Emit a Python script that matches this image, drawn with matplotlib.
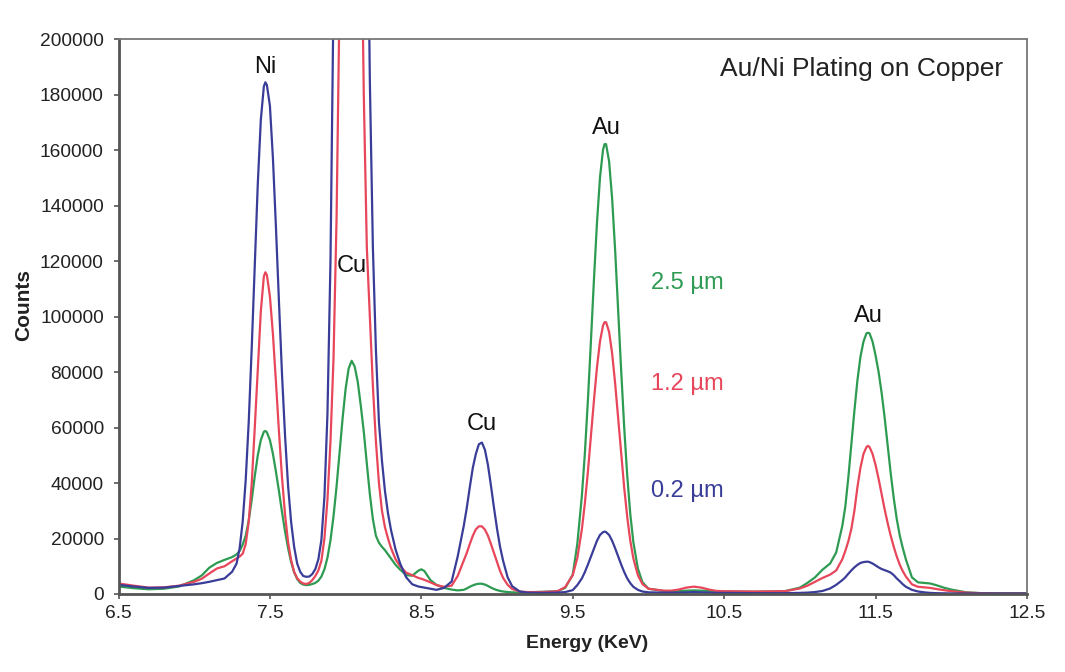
import matplotlib
matplotlib.use('Agg')
import matplotlib.pyplot as plt
from matplotlib.ticker import FuncFormatter

plt.rcParams['font.family'] = ['Liberation Sans', 'DejaVu Sans']

# energy axis (KeV), one row per region of the spectrum
energy = [
    6.5, 6.6, 6.7, 6.8, 6.9, 7.0, 7.05, 7.1, 7.15, 7.2, 7.25,
    7.28, 7.30, 7.32, 7.34, 7.36, 7.38, 7.40, 7.42, 7.44, 7.46,
    7.47, 7.48, 7.50, 7.52, 7.54, 7.56, 7.58, 7.60, 7.62, 7.64, 7.66,
    7.68, 7.70, 7.72, 7.74, 7.76, 7.78, 7.80, 7.82, 7.84, 7.86,
    7.88, 7.90, 7.92, 7.94, 7.96, 7.98, 8.00, 8.02, 8.04,
    8.06, 8.08, 8.10, 8.12, 8.14, 8.16, 8.18, 8.20,
    8.22, 8.24, 8.26, 8.28, 8.30, 8.33, 8.36, 8.40, 8.44,
    8.48, 8.50, 8.52, 8.56, 8.60, 8.65, 8.70,
    8.74, 8.78, 8.80, 8.82, 8.84, 8.86, 8.88, 8.90,
    8.92, 8.94, 8.96, 8.98, 9.00, 9.02, 9.04, 9.07, 9.10,
    9.15, 9.20, 9.30, 9.40, 9.45, 9.50, 9.53,
    9.56, 9.58, 9.60, 9.62, 9.64, 9.66, 9.68, 9.70,
    9.71, 9.72, 9.74, 9.76, 9.78, 9.80, 9.82, 9.84, 9.86,
    9.88, 9.90, 9.93, 9.96, 10.0, 10.1,
    10.15, 10.2, 10.25, 10.3, 10.35, 10.4, 10.45, 10.5, 10.7, 10.9,
    11.0, 11.05, 11.1, 11.15, 11.2, 11.24, 11.28, 11.30,
    11.32, 11.34, 11.36, 11.38, 11.40, 11.42, 11.44, 11.45, 11.46,
    11.48, 11.50, 11.52, 11.54, 11.56, 11.58, 11.60, 11.62, 11.64, 11.66, 11.68, 11.70,
    11.74, 11.78, 11.82, 11.86, 11.90, 11.95, 12.0, 12.1, 12.2, 12.3, 12.4, 12.5,
]

# 0.2 um gold
counts_02 = [
    3300, 2700, 2200, 2300, 2900, 3500, 3900, 4400, 5000, 5600, 8000,
    11000, 16500, 26000, 41000, 62000, 89000, 119000, 148000, 171000, 183000,
    184500, 183500, 176000, 157000, 132000, 105000, 79000, 57000, 39000, 26000, 17000,
    11000, 8000, 6500, 6200, 6300, 7200, 9000, 12500, 19500, 35000,
    65000, 120000, 215000, 340000, 480000, 620000, 730000, 790000, 800000,
    752000, 658000, 532000, 398000, 276000, 185000, 125000, 88000,
    62000, 48000, 37000, 29000, 23000, 16000, 11000, 6000, 3500,
    2700, 2500, 2300, 1900, 1500, 2200, 4500,
    13500, 24500, 31000, 38500, 45500, 50500, 54000, 54600,
    52000, 46500, 39000, 31000, 23500, 17000, 12000, 6000, 2800,
    900, 500, 400, 500, 700, 1400, 3200,
    5600, 7900, 10600, 13500, 16500, 19200, 21300, 22300,
    22500, 22300, 21300, 19200, 16500, 13500, 10600, 7900, 5600,
    3900, 2600, 1500, 900, 600, 500,
    500, 500, 600, 700, 600, 500, 400, 400, 300, 300,
    400, 500, 700, 1100, 2000, 3300, 5000, 6000,
    7300, 8500, 9600, 10500, 11200, 11500, 11650, 11650, 11500,
    11000, 10300, 9600, 9000, 8600, 8200, 7700, 6800, 5600, 4600, 3500, 2600,
    1500, 900, 600, 400, 300, 250, 200, 200, 200, 200, 200, 200,
]

# 1.2 um gold
counts_12 = [
    3800, 3000, 2300, 2400, 3000, 4400, 5500, 7400, 9200, 10000, 11800,
    12800, 13500, 14500, 18000, 26000, 40000, 60000, 81000, 102000, 114500,
    116000, 115000, 107300, 93600, 76300, 58300, 41900, 28600, 18700, 12200, 8000,
    5700, 4500, 3800, 3600, 4000, 5000, 6500, 8500, 12000, 20000,
    34000, 55000, 85000, 135000, 215000, 300000, 380000, 430000, 440000,
    420000, 350000, 260000, 180000, 125000, 100000, 75000, 55000,
    40000, 30000, 24000, 20000, 16500, 12500, 10000, 7700, 6800,
    5800, 5500, 5100, 4200, 3200, 2600, 3000,
    6500, 12000, 14800, 18000, 21000, 23300, 24400, 24400,
    23200, 21000, 18000, 14800, 11500, 8300, 5800, 3300, 1800,
    900, 700, 700, 1000, 2500, 6800, 12900,
    23200, 32700, 44100, 56800, 69800, 81700, 91100, 96800,
    98000, 98000, 94500, 86800, 75900, 63300, 50300, 38200, 27700,
    19200, 12900, 6800, 3600, 1900, 1200,
    1200, 1600, 2300, 2650, 2300, 1600, 1100, 1000, 900, 1000,
    2000, 3000, 4400, 5800, 7000, 8500, 12500, 15500,
    19000, 23500, 30000, 38500, 45500, 50500, 53000, 53400, 53000,
    50500, 46500, 41500, 36000, 30500, 25500, 21000, 17000, 13500, 10500, 8200, 6300,
    3500, 2600, 2400, 2200, 1800, 1400, 1000, 500, 300, 200, 200, 200,
]

# 2.5 um gold
counts_25 = [
    2700, 2100, 1700, 1900, 2700, 5000, 6700, 9500, 11200, 12300, 13300,
    14300, 15500, 17800, 21000, 26500, 34000, 42500, 50000, 55500, 58500,
    58800, 58300, 55500, 50500, 44000, 37000, 29500, 22500, 16500, 11500, 7800,
    5400, 4000, 3400, 3200, 3300, 3600, 4000, 4800, 6300, 8900,
    13100, 19400, 28000, 38700, 51000, 63300, 74000, 81300, 84100,
    82000, 76500, 68000, 58500, 47000, 36000, 27000, 21000,
    18500, 17000, 15800, 14300, 12800, 10500, 8800, 6800, 6600,
    8400, 8900, 8300, 5000, 3300, 2200, 1600,
    1300, 1500, 2000, 2600, 3100, 3500, 3700, 3700,
    3400, 2900, 2300, 1800, 1400, 1100, 900, 700, 600,
    500, 600, 800, 1000, 2200, 7000, 18000,
    35200, 50700, 69800, 91100, 113400, 133900, 150200, 160200,
    162200, 162200, 156000, 142600, 123900, 102300, 80300, 59900, 42500,
    28800, 18800, 9200, 4300, 1900, 1100,
    1000, 1000, 1200, 1300, 1200, 1100, 1000, 900, 800, 1000,
    2300, 4000, 6000, 8800, 11000, 15000, 24500, 31500,
    42000, 54000, 66000, 77000, 85500, 91000, 94000, 94200, 94000,
    91000, 86000, 80000, 72500, 63500, 53500, 43500, 34500, 27000, 21000, 16500, 12500,
    6000, 4200, 4000, 3800, 3200, 2300, 1600, 600, 300, 200, 200, 200,
]

x_ticks = [6.5, 7.5, 8.5, 9.5, 10.5, 11.5, 12.5]
y_ticks = [0, 20000, 40000, 60000, 80000, 100000, 120000, 140000, 160000, 180000, 200000]

# peak labels: (text, energy, counts at baseline)
peak_labels = [('Ni', 7.47, 188000), ('Cu', 8.04, 116000), ('Cu', 8.90, 59000),
               ('Au', 9.725, 166000), ('Au', 11.455, 98200)]
thickness_labels = ['2.5 \u00b5m', '1.2 \u00b5m', '0.2 \u00b5m']
thickness_y = [109900, 73600, 35100]

c_blue = '#3a3d98'
c_red = '#e8465a'
c_green = '#2e9b52'

W, H = 1065, 672
fig = plt.figure(figsize=(W / 100, H / 100), dpi=100)
ax = fig.add_axes([118.5 / W, 1 - 594 / H, (1027 - 118.5) / W, (594 - 39.3) / H])

ax.plot(energy, counts_25, color=c_green, lw=1.6)
ax.plot(energy, counts_12, color=c_red, lw=1.6)
ax.plot(energy, counts_02, color=c_blue, lw=1.6)

ax.set_xlim(6.5, 12.5)
ax.set_ylim(0, 200000)
ax.set_xticks(x_ticks)
ax.set_yticks(y_ticks)
ax.yaxis.set_major_formatter(FuncFormatter(lambda v, p: '%d' % v))
ax.tick_params(axis='both', direction='out', length=3.6, width=1.2,
               color='#555555', labelsize=13.8, labelcolor='#222222')
ax.tick_params(axis='y', pad=7)
ax.tick_params(axis='x', pad=4.5)

for side in ['left', 'bottom']:
    ax.spines[side].set_linewidth(2)
    ax.spines[side].set_color('#555555')
for side in ['top', 'right']:
    ax.spines[side].set_linewidth(1.3)
    ax.spines[side].set_color('#777777')

for txt, e, c in peak_labels:
    ax.text(e, c, txt, ha='center', va='baseline', fontsize=17, color='#111111')

thick_colors = [c_green, c_red, c_blue]
for txt, c, col in zip(thickness_labels, thickness_y, thick_colors):
    ax.text(10.02, c, txt, ha='left', va='baseline', fontsize=17, color=col)

ax.text(12.34, 186600, 'Au/Ni Plating on Copper', ha='right', va='baseline',
        fontsize=19, color='#222222')

fig.text(586.7 / W, 1 - 648.3 / H, 'Energy (KeV)', ha='center', va='baseline',
         fontsize=14, fontweight='bold', color='#222222')
fig.text(24 / W, 1 - 305 / H, 'Counts', ha='center', va='center', rotation=90,
         fontsize=15, fontweight='bold', color='#222222')

fig.savefig('out.png', dpi=100)
